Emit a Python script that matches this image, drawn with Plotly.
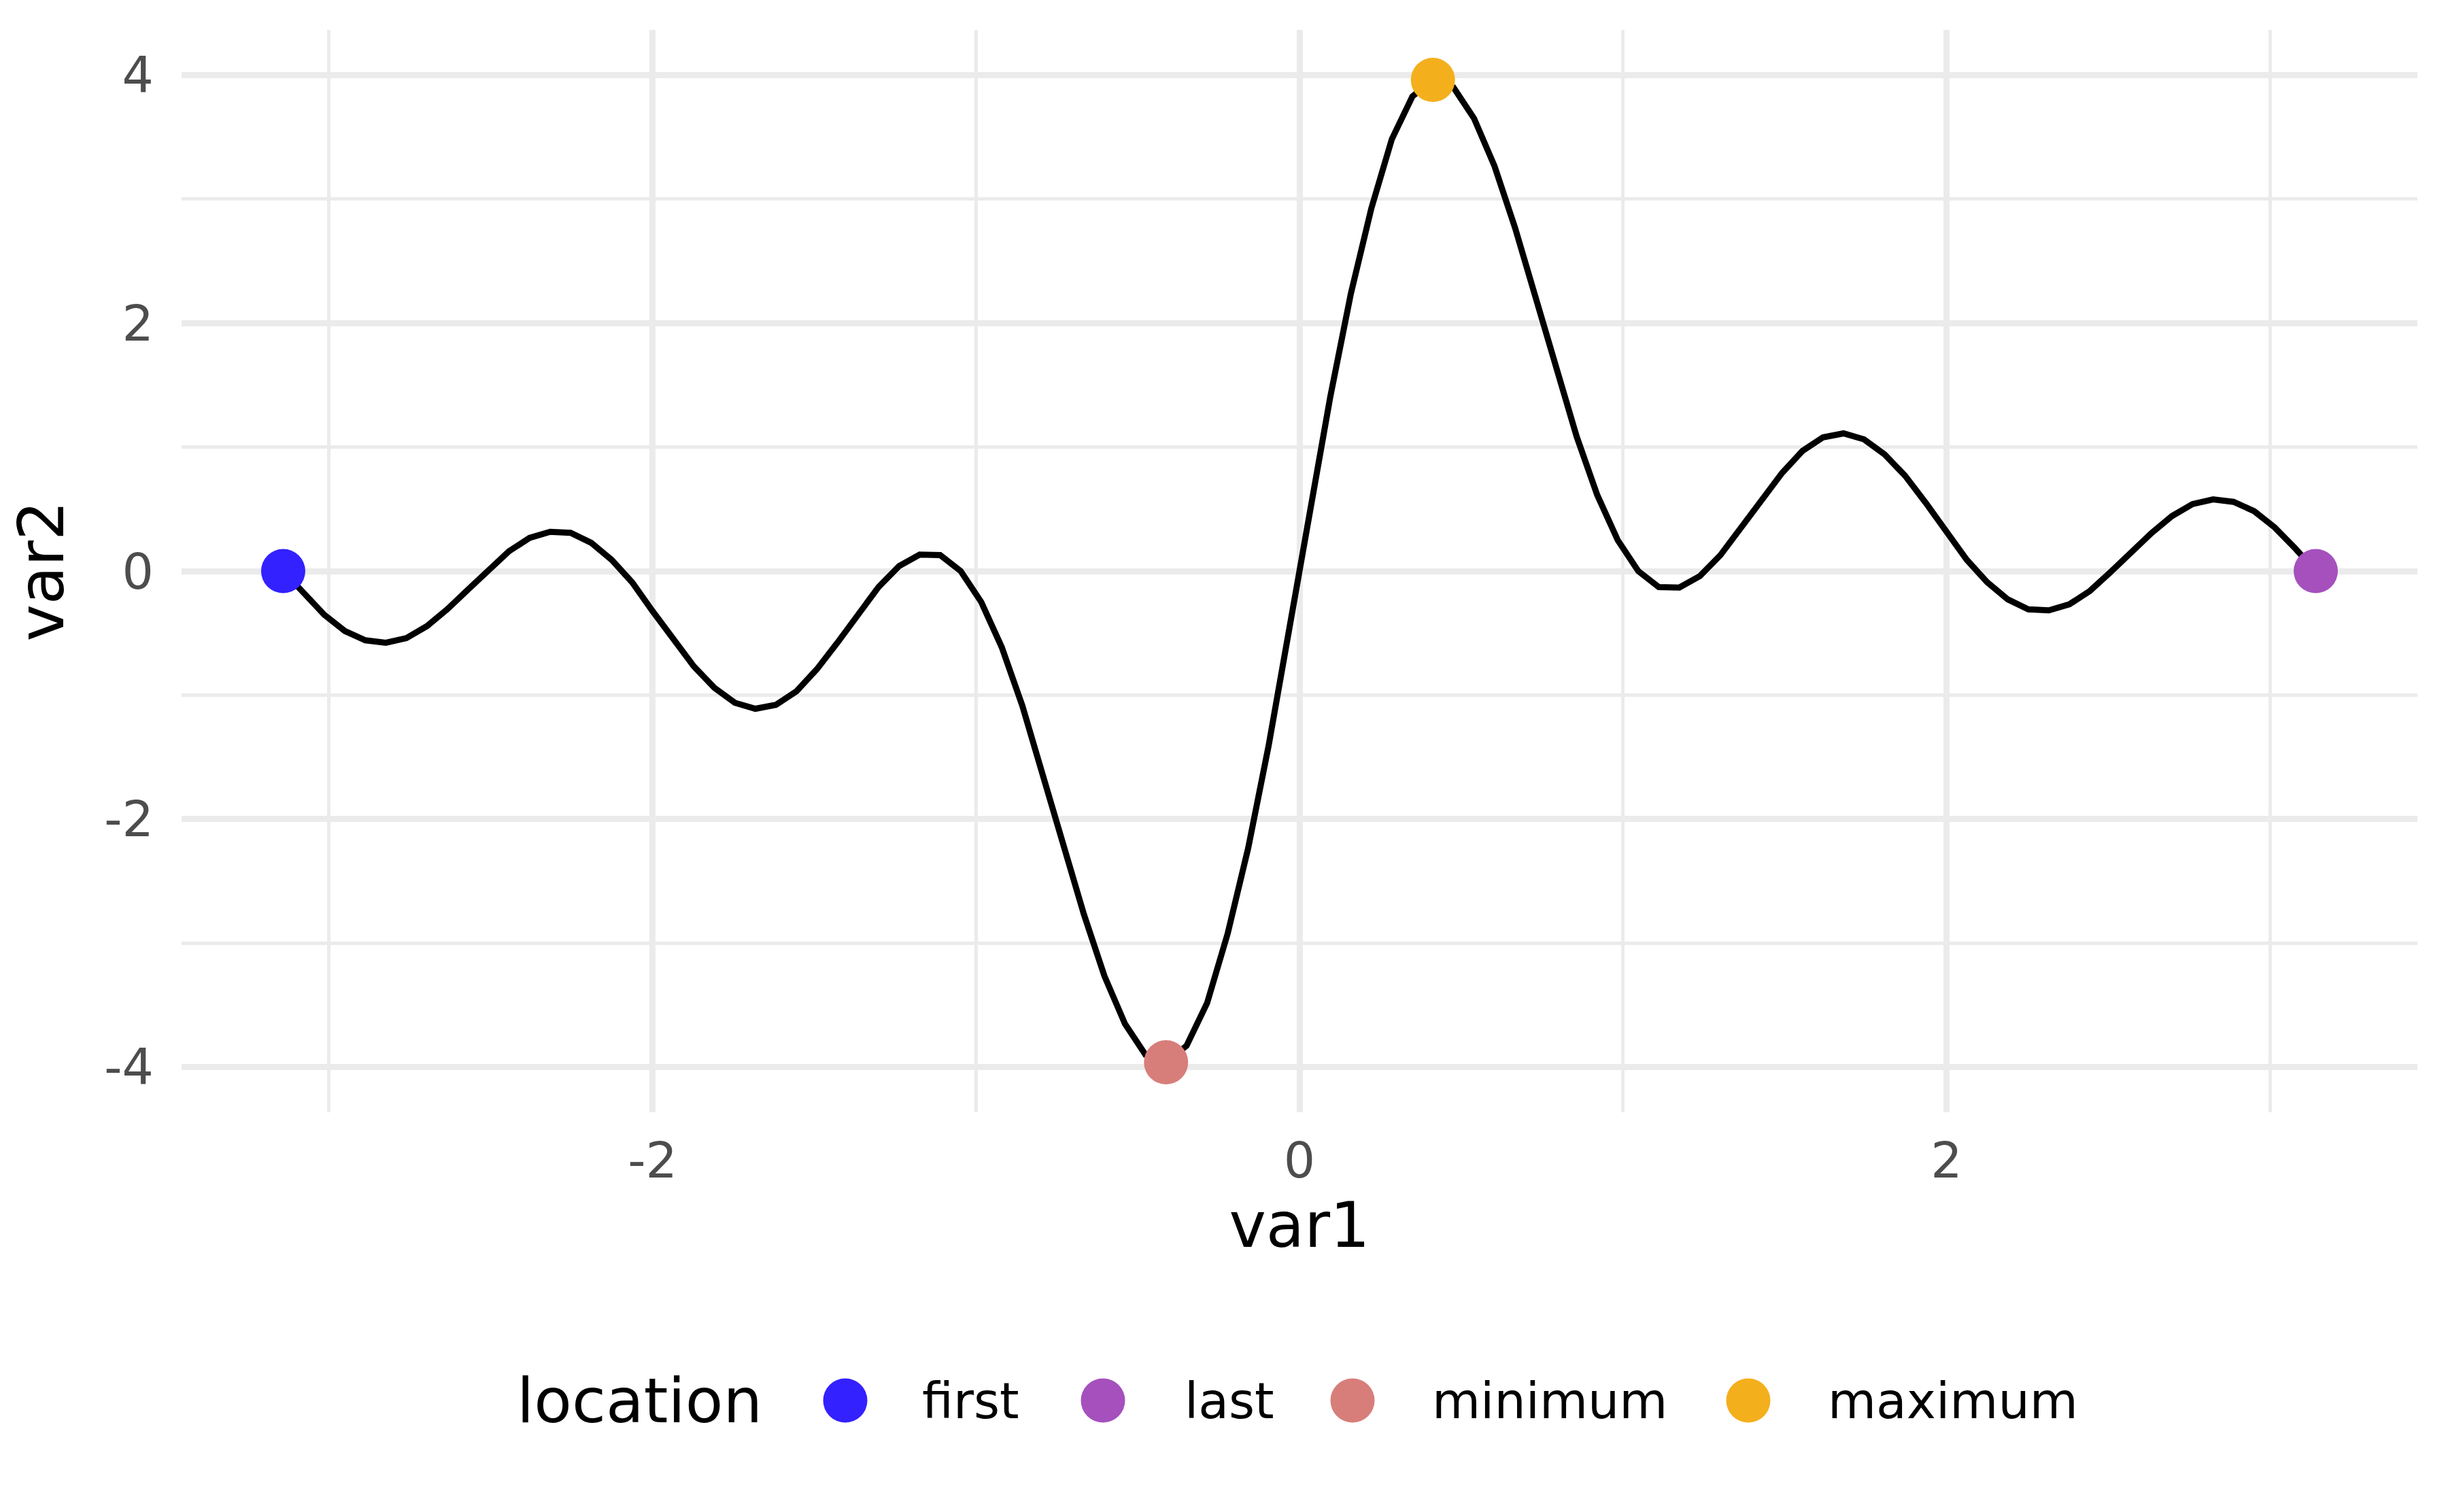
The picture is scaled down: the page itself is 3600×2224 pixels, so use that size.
import plotly.graph_objects as go

# ---- data ----
var1 = [
    -3.1416, -3.0781, -3.0147, -2.9512, -2.8877, -2.8243, -2.7608, -2.6973, -2.6339, -2.5704,
    -2.5069, -2.4435, -2.3800, -2.3165, -2.2531, -2.1896, -2.1261, -2.0627, -1.9992, -1.9357,
    -1.8723, -1.8088, -1.7453, -1.6819, -1.6184, -1.5549, -1.4915, -1.4280, -1.3645, -1.3011,
    -1.2376, -1.1741, -1.1107, -1.0472, -0.9837, -0.9203, -0.8568, -0.7933, -0.7299, -0.6664,
    -0.6029, -0.5395, -0.4760, -0.4125, -0.3491, -0.2856, -0.2221, -0.1587, -0.0952, -0.0317,
    0.0317, 0.0952, 0.1587, 0.2221, 0.2856, 0.3491, 0.4125, 0.4760, 0.5395, 0.6029,
    0.6664, 0.7299, 0.7933, 0.8568, 0.9203, 0.9837, 1.0472, 1.1107, 1.1741, 1.2376,
    1.3011, 1.3645, 1.4280, 1.4915, 1.5549, 1.6184, 1.6819, 1.7453, 1.8088, 1.8723,
    1.9357, 1.9992, 2.0627, 2.1261, 2.1896, 2.2531, 2.3165, 2.3800, 2.4435, 2.5069,
    2.5704, 2.6339, 2.6973, 2.7608, 2.8243, 2.8877, 2.9512, 3.0147, 3.0781, 3.1416,
]
var2 = [
    0.000, -0.183, -0.352, -0.483, -0.558, -0.578, -0.540, -0.444, -0.307, -0.149,
    0.009, 0.160, 0.268, 0.317, 0.308, 0.228, 0.090, -0.091, -0.325, -0.551,
    -0.768, -0.941, -1.062, -1.110, -1.078, -0.969, -0.790, -0.576, -0.345, -0.128,
    0.040, 0.133, 0.129, 0.000, -0.250, -0.614, -1.085, -1.645, -2.205, -2.768,
    -3.265, -3.650, -3.900, -3.960, -3.827, -3.483, -2.924, -2.235, -1.405, -0.450,
    0.450, 1.405, 2.235, 2.924, 3.483, 3.827, 3.960, 3.900, 3.650, 3.265,
    2.768, 2.205, 1.645, 1.085, 0.614, 0.250, 0.000, -0.129, -0.133, -0.040,
    0.128, 0.345, 0.576, 0.790, 0.969, 1.078, 1.110, 1.062, 0.941, 0.768,
    0.551, 0.325, 0.091, -0.090, -0.228, -0.308, -0.317, -0.268, -0.160, -0.009,
    0.149, 0.307, 0.444, 0.540, 0.578, 0.558, 0.483, 0.352, 0.183, 0.000,
]
locations = ["first", "last", "minimum", "maximum"]
location_colors = ["#3321FF", "#A550BD", "#D77E7A", "#F4AF1D"]
x_tickvals = [-2, 0, 2]
x_ticktext = ["-2", "0", "2"]
y_tickvals = [-4, -2, 0, 2, 4]
y_ticktext = ["-4", "-2", "0", "2", "4"]
minor_vals = [-3, -1, 1, 3]

# highlighted point indices
i_min = min(range(len(var2)), key=lambda i: var2[i])
i_max = max(range(len(var2)), key=lambda i: var2[i])
highlight_idx = [0, len(var2) - 1, i_min, i_max]

FONT = "DejaVu Sans"
fig = go.Figure()
fig.add_trace(go.Scatter(x=var1, y=var2, mode="lines",
                         line=dict(color="black", width=9),
                         showlegend=False, hoverinfo="skip"))
for name, col, idx in zip(locations, location_colors, highlight_idx):
    fig.add_trace(go.Scatter(x=[var1[idx]], y=[var2[idx]], mode="markers", name=name,
                             marker=dict(color=col, size=65, line=dict(width=0)),
                             showlegend=False))

# panel geometry (page pixels); the page body adds an 8 px offset
OFF = 8
L, R, T, B = 267, 3555, 44, 1636
W, H = 3600 - OFF, 2224 - OFF

def px_to_paper_x(px):
    return (px - L) / (R - L)

def py_to_paper_y(py):
    return (B - py) / (B - T)

# manual legend (ggplot style, large keys)
leg_y = py_to_paper_y(2060)
fig.add_annotation(x=px_to_paper_x(758), y=leg_y, xref="paper", yref="paper",
                   text="location", showarrow=False, xanchor="left", yanchor="middle",
                   font=dict(family=FONT, size=91, color="black"))
key_centers = [1243, 1622, 1989, 2571]
label_starts = [1354, 1740, 2104, 2686]
for name, col, kc, ls in zip(locations, location_colors, key_centers, label_starts):
    xc = px_to_paper_x(kc)
    fig.add_shape(type="circle", xref="paper", yref="paper",
                  xsizemode="pixel", ysizemode="pixel",
                  xanchor=xc, yanchor=leg_y, x0=-32.5, x1=32.5, y0=-32.5, y1=32.5,
                  fillcolor=col, line=dict(width=0))
    fig.add_annotation(x=px_to_paper_x(ls), y=leg_y, xref="paper", yref="paper",
                       text=name, showarrow=False, xanchor="left", yanchor="middle",
                       font=dict(family=FONT, size=73, color="black"))

grid = "#EBEBEB"
fig.update_xaxes(range=[-3.4558, 3.4558], tickvals=x_tickvals, ticktext=x_ticktext,
                 showgrid=True, gridcolor=grid, gridwidth=8.5, zeroline=False,
                 showline=False, ticks="", ticklabelstandoff=22,
                 tickfont=dict(family=FONT, size=73, color="#4D4D4D"),
                 minor=dict(tickvals=minor_vals, showgrid=True, gridcolor=grid, gridwidth=4.5),
                 title=dict(text="var1", font=dict(family=FONT, size=92, color="black"), standoff=20))
fig.update_yaxes(range=[-4.363, 4.363], tickvals=y_tickvals, ticktext=y_ticktext,
                 showgrid=True, gridcolor=grid, gridwidth=8.5, zeroline=False,
                 showline=False, ticks="", ticklabelstandoff=40,
                 tickfont=dict(family=FONT, size=73, color="#4D4D4D"),
                 minor=dict(tickvals=minor_vals, showgrid=True, gridcolor=grid, gridwidth=4.5),
                 title=dict(text="var2", font=dict(family=FONT, size=92, color="black"), standoff=40))
fig.update_layout(width=W, height=H, autosize=False,
                  margin=dict(l=L - OFF, r=W - (R - OFF), t=T - OFF, b=H - (B - OFF), autoexpand=False),
                  paper_bgcolor="white", plot_bgcolor="white",
                  font=dict(family=FONT), showlegend=False)
fig.write_html("out.html")
